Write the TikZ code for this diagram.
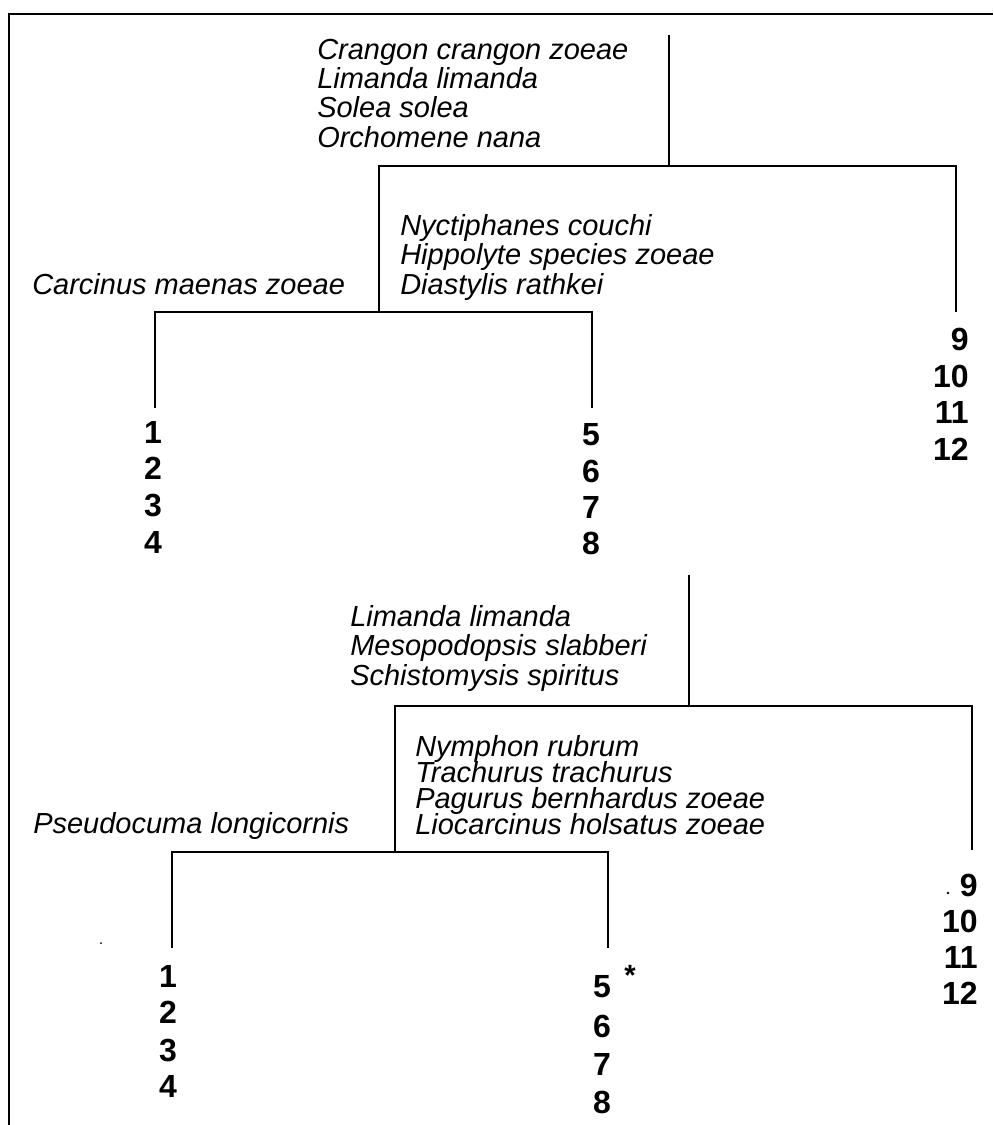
\documentclass[tikz,border=0pt]{standalone}
\usepackage{fontspec}
\setmainfont{Liberation Sans}
\newcommand\mytightls{\lineskiplimit=-100pt\relax\lineskip=0pt\relax}
\begin{document}
\begin{tikzpicture}[x=0.75pt,y=-0.75pt,
  lab/.style={anchor=base west, inner sep=0pt, align=left, font=\fontsize{21.75}{22}\selectfont\itshape\mytightls},
  labtight/.style={lab, font=\fontsize{21.75}{19.5}\selectfont\itshape\mytightls},
  num/.style={anchor=base, inner sep=0pt, font=\fontsize{24}{28}\selectfont\bfseries},
  numr/.style={num, anchor=base east},
  tree/.style={line width=1.2pt, line cap=butt},
  frame/.style={line width=1.6pt}]
\useasboundingbox (0,0) rectangle (993,1125);
% frame
\coordinate (fbl) at (9,1125);
\coordinate (ftl) at (9,14);
\coordinate (ftr) at (993,14);
\draw[frame] (fbl) -- (ftl) -- (ftr);

% ---------- top tree ----------
\coordinate (t0) at (669,35);
\coordinate (tj1) at (669,166);
\coordinate (tj2) at (379,312);
\coordinate (te9) at (956,312);
\coordinate (te1) at (155,408);
\coordinate (te5) at (592,408);
\draw[tree] (t0) -- (tj1);
\draw[tree] (tj2) |- (tj1) -| (te9);
\draw[tree] (te1) |- (tj2) -| (te5);

% anchor = baseline of the last line
\node[lab] (ta) at (317,147) {Crangon crangon zoeae\\Limanda limanda\\Solea solea\\Orchomene nana};
\node[lab] (tb) at (400,294) {Nyctiphanes couchi\\Hippolyte species zoeae\\Diastylis rathkei};
\node[lab] (tc) at (32,294) {Carcinus maenas zoeae};

\node[num] (tn1) at (153,443) {1};
\node[num] (tn2) at (153,479) {2};
\node[num] (tn3) at (153,516) {3};
\node[num] (tn4) at (153,553) {4};

\node[num] (tn5) at (591,445) {5};
\node[num] (tn6) at (591,482) {6};
\node[num] (tn7) at (591,518) {7};
\node[num] (tn8) at (591,554) {8};

\node[numr] (tn9) at (969,350) {9};
\node[numr] (tn10) at (969,387) {10};
\node[numr] (tn11) at (969,423) {11};
\node[numr] (tn12) at (969,460) {12};

% ---------- bottom tree ----------
\coordinate (b0) at (689,575);
\coordinate (bj1) at (689,706);
\coordinate (bj2) at (395,852);
\coordinate (be9) at (972,850);
\coordinate (be1) at (172,948);
\coordinate (be5) at (608,948);
\draw[tree] (b0) -- (bj1);
\draw[tree] (bj2) |- (bj1) -| (be9);
\draw[tree] (be1) |- (bj2) -| (be5);

\node[lab] (ba) at (350,685) {Limanda limanda\\Mesopodopsis slabberi\\Schistomysis spiritus};
\node[labtight] (bb) at (415,834) {Nymphon rubrum\\Trachurus trachurus\\Pagurus bernhardus zoeae\\Liocarcinus holsatus zoeae};
\node[lab] (bc) at (33,833) {Pseudocuma longicornis};

\node[num] (bn1) at (168,987) {1};
\node[num] (bn2) at (168,1023) {2};
\node[num] (bn3) at (168,1061) {3};
\node[num] (bn4) at (168,1097) {4};

\node[num] (bn5) at (602,997) {5};
\node[num] (bn6) at (602,1037) {6};
\node[num] (bn7) at (602,1075) {7};
\node[num] (bn8) at (602,1113) {8};
\node[inner sep=0pt, font=\fontsize{22}{26}\selectfont\bfseries] (bstar) at (630,975) {*};

\node[numr] (bn9) at (978,896) {9};
\node[numr] (bn10) at (978,932) {10};
\node[numr] (bn11) at (978,968) {11};
\node[numr] (bn12) at (978,1004) {12};

% specks
\fill (948,893) circle (1.4);
\fill (101,943) circle (1);
\end{tikzpicture}
\end{document}
